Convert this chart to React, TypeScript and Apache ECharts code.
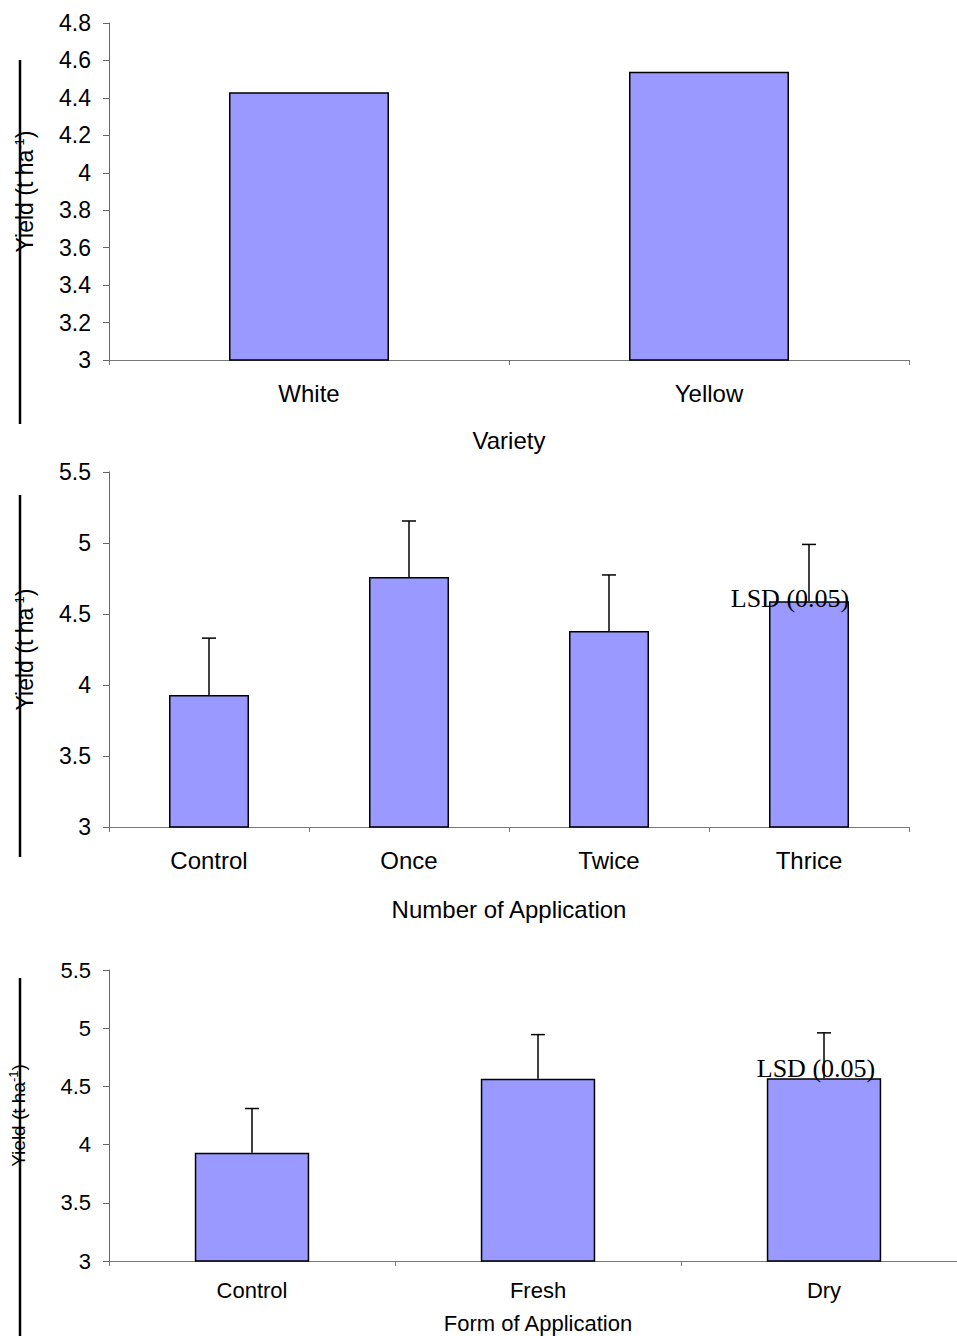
import React, { useEffect, useRef } from "react";
import * as echarts from "echarts";

const varietyCats = ["White", "Yellow"];
const varietyYield = [4.43, 4.54];

const applCats = ["Control", "Once", "Twice", "Thrice"];
const applYield = [3.93, 4.76, 4.38, 4.59];
const applUpper = [4.33, 5.155, 4.775, 4.99];

const formCats = ["Control", "Fresh", "Dry"];
const formYield = [3.93, 4.565, 4.57];
const formUpper = [4.31, 4.945, 4.96];

const lsdLabel = "LSD (0.05)";
const yTitle = "{a|Yield (t ha}{s|-1}{a|)}";

const FONT = "Liberation Sans, Arial, sans-serif";
const BAR_COLOR = "#9999FF";

function errSeries(idx: number, means: number[], uppers: number[], lsdDx: number, lsdDy: number) {
  const data = means.map((m, i) => [i, m, uppers[i]]);
  return {
    type: "custom",
    xAxisIndex: idx,
    yAxisIndex: idx,
    z: 5,
    data,
    renderItem: (params: any, api: any) => {
      const i = api.value(0);
      const lo = api.coord([i, api.value(1)]);
      const hi = api.coord([i, api.value(2)]);
      const children: any[] = [
        { type: "line", shape: { x1: lo[0], y1: lo[1], x2: hi[0], y2: hi[1] }, style: { stroke: "#000", lineWidth: 1.5 } },
        { type: "line", shape: { x1: hi[0] - 7, y1: hi[1], x2: hi[0] + 7, y2: hi[1] }, style: { stroke: "#000", lineWidth: 1.5 } },
      ];
      if (i === means.length - 1) {
        children.push({
          type: "text",
          x: lo[0] + lsdDx,
          y: lo[1] + lsdDy,
          style: { text: lsdLabel, font: '26px "Liberation Serif", "Times New Roman", serif', fill: "#000", align: "center", verticalAlign: "middle" },
        });
      }
      return { type: "group", children };
    },
  };
}

export default function App() {
  const ref = useRef<HTMLDivElement>(null);
  useEffect(() => {
    if (!ref.current) return;
    const chart = echarts.init(ref.current, undefined, { renderer: "svg" });
    const grids = [
      { left: 109, top: 23, width: 800, height: 337, outerBoundsMode: "none" },
      { left: 109, top: 472, width: 800, height: 355, outerBoundsMode: "none" },
      { left: 109, top: 970, width: 858, height: 291, outerBoundsMode: "none" },
    ];
    const xNames = ["Variety", "Number of Application", "Form of Application"];
    const xCats = [varietyCats, applCats, formCats];
    const xNameGaps = [68, 70, 51];
    const xLabelMargins = [21, 21, 18];
    const xLabelSizes = [24, 24, 22];
    const xNameSizes = [24, 24, 22];
    const yRanges = [
      { min: 3, max: 4.8, interval: 0.2 },
      { min: 3, max: 5.5, interval: 0.5 },
      { min: 3, max: 5.5, interval: 0.5 },
    ];
    const yNameGaps = [73, 73, 80];
    const yNameSizes = [23, 23, 19];
    const yLabelSizes = [23, 23, 22];

    const xAxis = xCats.map((cats, i) => ({
      type: "category",
      gridIndex: i,
      data: cats,
      name: xNames[i],
      nameLocation: "middle",
      nameGap: xNameGaps[i],
      nameTextStyle: { fontFamily: FONT, fontSize: xNameSizes[i], color: "#000" },
      axisLine: { show: true, lineStyle: { color: "#777", width: 1 } },
      axisTick: { show: true, length: 5, lineStyle: { color: "#777" } },
      axisLabel: { fontFamily: FONT, fontSize: xLabelSizes[i], color: "#000", margin: xLabelMargins[i] },
      splitLine: { show: false },
    }));

    const yAxis = yRanges.map((r, i) => ({
      type: "value",
      gridIndex: i,
      min: r.min,
      max: r.max,
      interval: r.interval,
      name: yTitle,
      nameLocation: "middle",
      nameRotate: 90,
      nameGap: yNameGaps[i],
      nameTextStyle: {
        rich: {
          a: { fontFamily: FONT, fontSize: yNameSizes[i], color: "#000" },
          s: { fontFamily: FONT, fontSize: 13, color: "#000", verticalAlign: "top", padding: [0, 0, 9, 0] },
        },
      },
      axisLine: { show: true, lineStyle: { color: "#666", width: 1 } },
      axisTick: { show: true, length: 6, lineStyle: { color: "#666" } },
      axisLabel: { fontFamily: FONT, fontSize: yLabelSizes[i], color: "#000", margin: 18 },
      splitLine: { show: false },
    }));

    const barStyle = { color: BAR_COLOR, borderColor: "#000", borderWidth: 1.5 };

    chart.setOption({
      animation: false,
      grid: grids,
      xAxis,
      yAxis,
      series: [
        { type: "bar", xAxisIndex: 0, yAxisIndex: 0, data: varietyYield, barWidth: "40%", itemStyle: barStyle },
        { type: "bar", xAxisIndex: 1, yAxisIndex: 1, data: applYield, barWidth: "40%", itemStyle: barStyle },
        { type: "bar", xAxisIndex: 2, yAxisIndex: 2, data: formYield, barWidth: "40%", itemStyle: barStyle },
        errSeries(1, applYield, applUpper, -19, -3),
        errSeries(2, formYield, formUpper, -8, -10),
      ],
      graphic: [
        { type: "line", shape: { x1: 20, y1: 60, x2: 20, y2: 424 }, style: { stroke: "#000", lineWidth: 2.5 } },
        { type: "line", shape: { x1: 20, y1: 495, x2: 20, y2: 857 }, style: { stroke: "#000", lineWidth: 2.5 } },
        { type: "line", shape: { x1: 20, y1: 978, x2: 20, y2: 1336 }, style: { stroke: "#000", lineWidth: 2.5 } },
      ],
    } as any);
    return () => chart.dispose();
  }, []);
  return <div ref={ref} style={{ position: "absolute", left: 0, top: 0, width: 957, height: 1336, background: "#fff" }} />;
}
